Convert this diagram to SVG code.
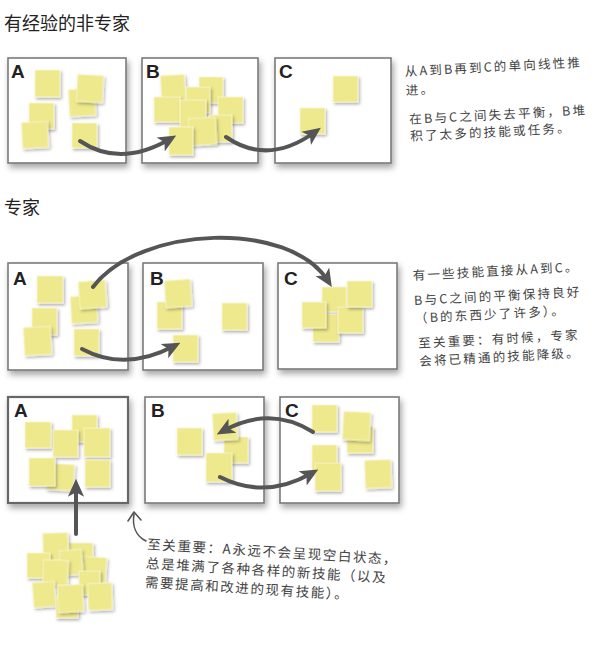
<svg xmlns="http://www.w3.org/2000/svg" width="610" height="649" viewBox="0 0 610 649">
<defs>
<filter id="bsh" x="-10%" y="-10%" width="125%" height="130%"><feDropShadow dx="2" dy="4" stdDeviation="3" flood-color="#000" flood-opacity="0.35"/></filter>
<filter id="ssh" x="-20%" y="-20%" width="150%" height="150%"><feDropShadow dx="1.5" dy="2" stdDeviation="1.5" flood-color="#000" flood-opacity="0.3"/></filter>
<marker id="ah" viewBox="0 0 10 10" refX="6" refY="5" markerWidth="18" markerHeight="18" markerUnits="userSpaceOnUse" orient="auto"><path d="M0,0.5 L10,5 L0,9.5 L2.5,5 z" fill="#555"/></marker>
<style>
.box{fill:#fff;stroke:#7a7a7a;stroke-width:1.6;filter:url(#bsh)}
.s{fill:#EEE98C;stroke:#FBF8D6;stroke-width:0.8;filter:url(#ssh)}
.lbl{font-family:"Liberation Sans",Arial,sans-serif;font-weight:bold;font-size:19px;fill:#222}
.h{font-family:"Noto Sans CJK SC","Noto Sans",sans-serif;font-size:18px;fill:#222}
.n{font-family:"Noto Sans CJK SC","Noto Sans",sans-serif;font-size:12.5px;fill:#444;letter-spacing:2.2px}
.c{fill:none;stroke:#555;stroke-width:4;stroke-linecap:round;marker-end:url(#ah)}
</style>
</defs>
<rect width="610" height="649" fill="#fff"/>

<g id="title1"><text class="h" x="4" y="30">有经验的非专家</text></g>
<g id="title2"><text class="h" x="4" y="214">专家</text></g>

<!-- Row 1 -->
<g id="r1-A">
<rect class="box" x="8" y="58" width="118" height="105"/>
<text class="lbl" x="11" y="78">A</text>
<rect class="s" x="35" y="70" width="25" height="27"/>
<rect class="s" x="69" y="89" width="26" height="27" transform="rotate(-3 82 102)"/>
<rect class="s" x="77" y="75" width="26" height="27" transform="rotate(3 90 88)"/>
<rect class="s" x="29" y="103" width="25" height="26"/>
<rect class="s" x="22" y="122" width="26" height="26" transform="rotate(-3 35 135)"/>
<rect class="s" x="72" y="123" width="25" height="25"/>
</g>
<g id="r1-B">
<rect class="box" x="142" y="58" width="116" height="105"/>
<text class="lbl" x="146" y="78">B</text>
<rect class="s" x="161" y="75" width="24" height="27" transform="rotate(-3 173 88)"/>
<rect class="s" x="199" y="77" width="24" height="26"/>
<rect class="s" x="154" y="97" width="26" height="25"/>
<rect class="s" x="186" y="87" width="24" height="26"/>
<rect class="s" x="218" y="97" width="25" height="26"/>
<rect class="s" x="180" y="100" width="26" height="27"/>
<rect class="s" x="209" y="115" width="23" height="27"/>
<rect class="s" x="189" y="118" width="27" height="27" transform="rotate(-3 202 131)"/>
<rect class="s" x="169" y="127" width="24" height="28"/>
</g>
<g id="r1-C">
<rect class="box" x="275" y="58" width="116" height="105"/>
<text class="lbl" x="279" y="78">C</text>
<rect class="s" x="333" y="76" width="25" height="26"/>
<rect class="s" x="300" y="108" width="25" height="26"/>
</g>
<g id="note1" transform="rotate(-3 405 75)">
<text class="n" x="405" y="76">从A到B再到C的单向线性推</text>
<text class="n" x="405" y="95">进。</text>
<text class="n" x="407" y="124">在B与C之间失去平衡，B堆</text>
<text class="n" x="407" y="141">积了太多的技能或任务。</text>
</g>

<!-- Row 2 -->
<g id="r2-A">
<rect class="box" x="8" y="263" width="120" height="107"/>
<text class="lbl" x="13" y="285">A</text>
<rect class="s" x="37" y="276" width="26" height="27"/>
<rect class="s" x="71" y="296" width="26" height="27" transform="rotate(-3 84 309)"/>
<rect class="s" x="79" y="281" width="27" height="27" transform="rotate(-4 92 294)"/>
<rect class="s" x="32" y="308" width="25" height="27"/>
<rect class="s" x="24" y="327" width="27" height="28" transform="rotate(-3 37 341)"/>
<rect class="s" x="74" y="329" width="25" height="27"/>
</g>
<g id="r2-B">
<rect class="box" x="143" y="263" width="120" height="107"/>
<text class="lbl" x="150" y="285">B</text>
<rect class="s" x="157" y="302" width="25" height="27"/>
<rect class="s" x="165" y="280" width="26" height="27" transform="rotate(-4 178 293)"/>
<rect class="s" x="222" y="303" width="25" height="27"/>
<rect class="s" x="173" y="335" width="25" height="27"/>
</g>
<g id="r2-C">
<rect class="box" x="278" y="263" width="119" height="106"/>
<text class="lbl" x="284" y="285">C</text>
<rect class="s" x="322" y="287" width="24" height="25"/>
<rect class="s" x="313" y="314" width="26" height="28"/>
<rect class="s" x="338" y="307" width="25" height="26"/>
<rect class="s" x="347" y="281" width="25" height="26"/>
<rect class="s" x="302" y="302" width="24" height="26"/>
</g>
<g id="note2" transform="rotate(-3 412 280)">
<text class="n" x="413" y="280">有一些技能直接从A到C。</text>
<text class="n" x="413" y="305">B与C之间的平衡保持良好</text>
<text class="n" x="413" y="323">（B的东西少了许多）。</text>
<text class="n" x="415" y="348">至关重要：有时候，专家</text>
<text class="n" x="415" y="366">会将已精通的技能降级。</text>
</g>

<!-- Row 3 -->
<g id="r3-A">
<rect class="box" x="8" y="397" width="120" height="106" style="stroke-width:2.2;stroke:#666"/>
<text class="lbl" x="14" y="417">A</text>
<rect class="s" x="72" y="415" width="25" height="27"/>
<rect class="s" x="25" y="422" width="26" height="26"/>
<rect class="s" x="53" y="430" width="25" height="27"/>
<rect class="s" x="84" y="428" width="26" height="29"/>
<rect class="s" x="47" y="464" width="27" height="26" transform="rotate(3 60 477)"/>
<rect class="s" x="29" y="458" width="26" height="28"/>
<rect class="s" x="85" y="460" width="25" height="27"/>
</g>
<g id="r3-B">
<rect class="box" x="145" y="397" width="119" height="106"/>
<text class="lbl" x="151" y="417">B</text>
<rect class="s" x="177" y="428" width="25" height="27"/>
<rect class="s" x="224" y="437" width="24" height="26"/>
<rect class="s" x="213" y="413" width="24" height="27" transform="rotate(-3 225 426)"/>
<rect class="s" x="206" y="453" width="26" height="29"/>
</g>
<g id="r3-C">
<rect class="box" x="280" y="397" width="119" height="106"/>
<text class="lbl" x="285" y="417">C</text>
<rect class="s" x="312" y="405" width="25" height="27"/>
<rect class="s" x="347" y="427" width="26" height="26"/>
<rect class="s" x="343" y="412" width="27" height="28" transform="rotate(3 356 426)"/>
<rect class="s" x="312" y="445" width="25" height="27"/>
<rect class="s" x="315" y="463" width="26" height="28"/>
<rect class="s" x="365" y="460" width="26" height="28" transform="rotate(-2 378 474)"/>
</g>
<g id="pile">
<rect class="s" x="69" y="543" width="24" height="25"/>
<rect class="s" x="43" y="533" width="25" height="27" transform="rotate(-2 55 546)"/>
<rect class="s" x="27" y="553" width="23" height="25"/>
<rect class="s" x="82" y="557" width="24" height="25" transform="rotate(4 94 570)"/>
<rect class="s" x="60" y="550" width="22" height="25" transform="rotate(-4 71 562)"/>
<rect class="s" x="79" y="571" width="21" height="24"/>
<rect class="s" x="43" y="560" width="25" height="25" transform="rotate(2 55 572)"/>
<rect class="s" x="33" y="582" width="22" height="25" transform="rotate(-4 44 594)"/>
<rect class="s" x="56" y="597" width="22" height="21"/>
<rect class="s" x="58" y="585" width="25" height="27" transform="rotate(-3 70 598)"/>
<rect class="s" x="88" y="583" width="24" height="27" transform="rotate(-2 100 596)"/>
</g>
<g id="note3" transform="rotate(3.5 147 549)">
<text class="n" x="147" y="549" style="font-size:13.5px;letter-spacing:1.6px">至关重要：A永远不会呈现空白状态，</text>
<text class="n" x="147" y="568" style="font-size:13.5px;letter-spacing:1.6px">总是堆满了各种各样的新技能（以及</text>
<text class="n" x="147" y="587" style="font-size:13.5px;letter-spacing:1.6px">需要提高和改进的现有技能）。</text>
</g>

<g id="connectors">
<path class="c" d="M80 141 Q120 168 170 139"/>
<path class="c" d="M226 137 Q268 166 315 132"/>
<path class="c" d="M93 287 C140 225 290 220 328 281"/>
<path class="c" d="M82 349 Q125 372 174 346"/>
<path class="c" d="M313 432 Q270 405 223 431"/>
<path class="c" d="M220 477 Q265 500 312 473"/>
<path class="c" d="M76 534 L76 486"/>
<g fill="none" stroke="#555" stroke-width="1.6" stroke-linecap="round" stroke-linejoin="round">
<path d="M146 541 C136 536 132 526 134 514"/>
<path d="M128 521 L134 512 L141 520"/>
</g>
</g>
</svg>
